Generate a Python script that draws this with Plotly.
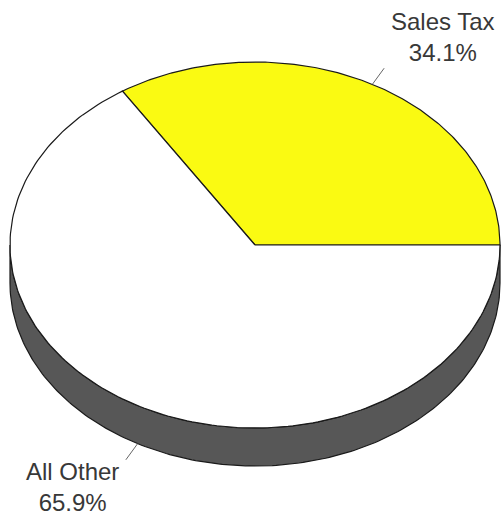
import numpy as np
import plotly.graph_objects as go

# ---- data ----
categories = ["Sales Tax", "All Other"]
values = [34.1, 65.9]
label_text = ["Sales Tax<br>34.1%", "All Other<br>65.9%"]
slice_colors = ["#FAFA12", "#FFFFFF"]

# ---- geometry / style (pixel-like data coordinates) ----
W, H = 501, 518
CX, CY = 255.0, 245.0     # ellipse centre
RA, RB = 245.0, 183.0     # horizontal / vertical radii
DEPTH = 38.0              # pie thickness
SIDE_COLOR = "#575757"
EDGE = "#1a1a1a"
label_pos = [(443, 37), (72, 487)]

def ell(theta_deg, dy=0.0):
    t = np.radians(theta_deg)
    return CX + RA * np.cos(t), CY - RB * np.sin(t) + dy

fig = go.Figure()

# side wall (front half of cylinder)
th = np.linspace(180, 360, 200)
xt, yt = ell(th)
xb, yb = ell(th[::-1], DEPTH)
fig.add_trace(go.Scatter(
    x=np.concatenate([xt, xb, xt[:1]]), y=np.concatenate([yt, yb, yt[:1]]),
    fill="toself", fillcolor=SIDE_COLOR, mode="lines",
    line=dict(color=EDGE, width=1.2), hoverinfo="skip", showlegend=False))

# top face slices
total = sum(values)
start = 0.0
mids = []
for cat, v, col in zip(categories, values, slice_colors):
    span = 360.0 * v / total
    th = np.linspace(start, start + span, 200)
    xs, ys = ell(th)
    x = np.concatenate([[CX], xs, [CX]])
    y = np.concatenate([[CY], ys, [CY]])
    fig.add_trace(go.Scatter(
        x=x, y=y, fill="toself", fillcolor=col, mode="lines",
        line=dict(color=EDGE, width=1.2), name=cat, hoverinfo="name",
        showlegend=False))
    mids.append(start + span / 2)
    start += span

# leader lines and labels
for mid, txt, (lx, ly) in zip(mids, label_text, label_pos):
    s = np.sin(np.radians(mid))
    dy = DEPTH if s < 0 else 0.0
    x0, y0 = ell(mid, dy)
    t = np.radians(mid)
    ux, uy = np.cos(t), -np.sin(t) * RB / RA
    n = np.hypot(ux, uy)
    ux, uy = ux / n, uy / n
    x1, y1 = x0 + ux * 20, y0 + uy * 20
    fig.add_trace(go.Scatter(x=[x0, x1], y=[y0, y1], mode="lines",
                             line=dict(color="#666666", width=1),
                             hoverinfo="skip", showlegend=False))
    fig.add_annotation(x=lx, y=ly, text=txt, showarrow=False,
                       xanchor="center", yanchor="middle",
                       font=dict(family="Liberation Sans, Arial, sans-serif",
                                 size=24, color="#383838"))

fig.update_xaxes(range=[0, W], visible=False, fixedrange=True)
fig.update_yaxes(range=[H, 0], visible=False, fixedrange=True)
fig.update_layout(width=W, height=H, margin=dict(l=0, r=0, t=0, b=0),
                  paper_bgcolor="white", plot_bgcolor="white")

fig.write_html("out.html")
